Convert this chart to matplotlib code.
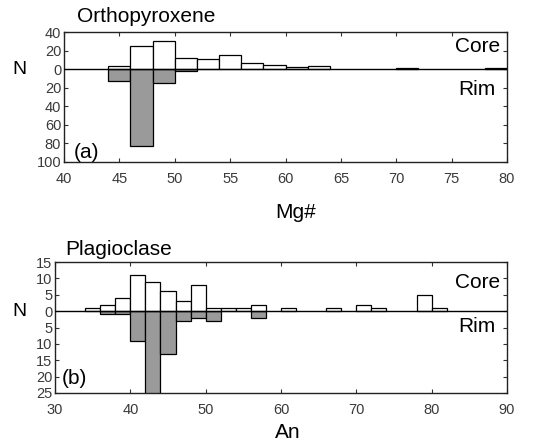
import matplotlib
matplotlib.use("Agg")
import matplotlib.pyplot as plt
import numpy as np

plt.rcParams['font.family'] = ['Liberation Sans', 'DejaVu Sans']

# Orthopyroxene (Mg#), bins of width 2 (left edges)
opx_core_left = [44, 46, 48, 50, 52, 54, 56, 58, 60, 62, 70, 78]
opx_core_n = [3, 25, 30, 12, 11, 15, 7, 4, 2, 3, 1, 1]
opx_rim_left = [44, 46, 48, 50]
opx_rim_n = [13, 83, 15, 2]

# Plagioclase (An), bins of width 2 (left edges)
plg_core_left = [34, 36, 38, 40, 42, 44, 46, 48, 50, 52, 54, 56, 60, 66, 70, 72, 78, 80]
plg_core_n = [1, 2, 4, 11, 9, 6, 3, 8, 1, 1, 1, 2, 1, 1, 2, 1, 5, 1]
plg_rim_left = [36, 38, 40, 42, 44, 46, 48, 50, 56]
plg_rim_n = [1, 1, 9, 27, 13, 3, 2, 3, 2]

opx_xticks = [40, 45, 50, 55, 60, 65, 70, 75, 80]
opx_yticks = [40, 20, 0, -20, -40, -60, -80, -100]
plg_xticks = [30, 40, 50, 60, 70, 80, 90]
plg_yticks = [15, 10, 5, 0, -5, -10, -15, -20, -25]

W, H = 551, 447
fig = plt.figure(figsize=(W / 100, H / 100), dpi=100)


def box(l, t, r, b):
    return [l / W, 1 - b / H, (r - l) / W, (b - t) / H]


ax1 = fig.add_axes(box(64, 32, 507, 162))
ax2 = fig.add_axes(box(55, 262, 507, 393))

fill = '#9a9a9a'
tickcol = '#3a3a3a'


def draw(ax, core_left, core_n, rim_left, rim_n, xlim, ylim, xticks, yticks):
    ax.bar(rim_left, [-v for v in rim_n], width=2, align='edge', color=fill,
           edgecolor='black', linewidth=0.9, zorder=2)
    ax.bar(core_left, core_n, width=2, align='edge', color='white',
           edgecolor='black', linewidth=0.9, zorder=3)
    ax.axhline(0, color='black', linewidth=1.0, zorder=4)
    ax.set_xlim(*xlim)
    ax.set_ylim(*ylim)
    ax.set_xticks(xticks)
    ax.set_yticks(yticks)
    ax.set_yticklabels([str(abs(v)) for v in yticks])
    ax.tick_params(direction='in', length=3, width=0.8, top=True, right=True,
                   labelsize=10.5, labelcolor=tickcol, color='#333333')
    ax.tick_params(axis='y', pad=2)
    ax.tick_params(axis='x', pad=7)
    for s in ax.spines.values():
        s.set_linewidth(1.0)
        s.set_color('#222222')


draw(ax1, opx_core_left, opx_core_n, opx_rim_left, opx_rim_n, (40, 80), (-100, 40),
     opx_xticks, opx_yticks)
draw(ax2, plg_core_left, plg_core_n, plg_rim_left, plg_rim_n, (30, 90), (-25, 15),
     plg_xticks, plg_yticks)

fs = 15
fig.text(77 / W, 1 - 22 / H, 'Orthopyroxene', fontsize=fs, ha='left', va='baseline')
fig.text(65 / W, 1 - 255 / H, 'Plagioclase', fontsize=fs, ha='left', va='baseline')

fig.text(500 / W, 1 - 46 / H, 'Core', fontsize=fs, ha='right', va='center')
fig.text(495 / W, 1 - 90 / H, 'Rim', fontsize=fs, ha='right', va='center')
fig.text(500 / W, 1 - 282 / H, 'Core', fontsize=fs, ha='right', va='center')
fig.text(495 / W, 1 - 326 / H, 'Rim', fontsize=fs, ha='right', va='center')

fig.text(74 / W, 1 - 152 / H, '(a)', fontsize=fs, ha='left', va='center')
fig.text(62 / W, 1 - 379 / H, '(b)', fontsize=fs, ha='left', va='center')

fig.text(19 / W, 1 - 70 / H, 'N', fontsize=14, ha='center', va='center')
fig.text(19 / W, 1 - 312 / H, 'N', fontsize=14, ha='center', va='center')

fig.text(296 / W, 1 - 212 / H, 'Mg#', fontsize=15, ha='center', va='center')
fig.text(288 / W, 1 - 432 / H, 'An', fontsize=15, ha='center', va='center')

fig.savefig('out.png', dpi=100)
